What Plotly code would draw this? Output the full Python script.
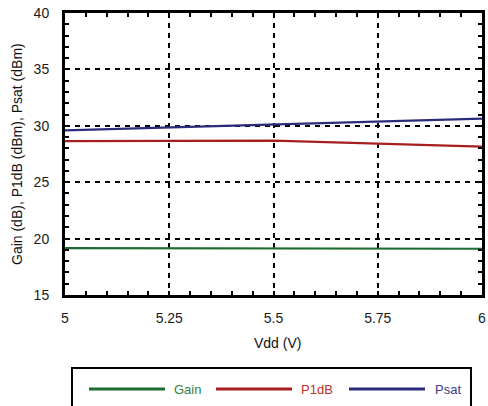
import plotly.graph_objects as go

vdd = [5.0, 5.25, 5.5, 5.75, 6.0]
gain = [19.15, 19.15, 19.15, 19.13, 19.1]
p1db = [28.65, 28.66, 28.68, 28.42, 28.15]
psat = [29.6, 29.85, 30.08, 30.36, 30.63]

series_names = ["Gain", "P1dB", "Psat"]
line_colors = ["#1e6b30", "#a81e1e", "#2b2b7c"]
text_colors = ["#2f8045", "#c0302a", "#3c3c8c"]
x_ticks = [5, 5.25, 5.5, 5.75, 6]
x_ticklabels = ["5", "5.25", "5.5", "5.75", "6"]
y_ticks = [15, 20, 25, 30, 35, 40]

W, H = 488, 406
L, R, T, B = 65, 482, 13, 295  # plot area in page pixels

def px(x):
    return (x - L) / (R - L)

def py(y):
    return (B - y) / (B - T)

fig = go.Figure()
for name, ys, c in zip(series_names, [gain, p1db, psat], line_colors):
    fig.add_trace(go.Scatter(x=vdd, y=ys, mode="lines", name=name,
                             line=dict(color=c, width=2.2), showlegend=False))

font = "Liberation Sans, Arial, Helvetica, sans-serif"
axis_common = dict(
    showline=True, linecolor="black", linewidth=3, mirror="allticks",
    ticks="inside", ticklen=4, tickwidth=2, tickcolor="black",
    showgrid=True, gridcolor="black", gridwidth=2, griddash="5px,5px",
    zeroline=False, tickfont=dict(family=font, size=14, color="#1a1a1a"),
    automargin=False, ticklabeloverflow="allow",
)
fig.update_xaxes(range=[5, 6], tickvals=x_ticks, ticktext=x_ticklabels,
                 minor=dict(dtick=0.05, tick0=5, ticks="inside", ticklen=4, tickwidth=2, tickcolor="black", showgrid=False),
                 ticklabelstandoff=8, **axis_common)
fig.update_yaxes(range=[15, 40], tickvals=y_ticks,
                 minor=dict(dtick=1, tick0=15, ticks="inside", ticklen=4, tickwidth=2, tickcolor="black", showgrid=False),
                 ticklabelstandoff=10, **axis_common)

shapes = [dict(type="rect", xref="paper", yref="paper",
               x0=px(72), x1=px(471), y0=py(368), y1=py(420),
               line=dict(color="black", width=2), fillcolor="rgba(0,0,0,0)")]
annotations = [
    dict(xref="paper", yref="paper", x=px(277), y=py(343), xanchor="center", yanchor="middle",
         showarrow=False, text="Vdd (V)", font=dict(family=font, size=14, color="#111")),
    dict(xref="paper", yref="paper", x=px(17), y=py(154), xanchor="center", yanchor="middle",
         showarrow=False, textangle=-90, text="Gain (dB), P1dB (dBm), Psat (dBm)",
         font=dict(family=font, size=14, color="#111")),
]
leg_lines = [(89, 165, 172), (216, 292, 299), (349, 425, 433)]
for (x0, x1, xt), name, lc, tc in zip(leg_lines, series_names, line_colors, text_colors):
    shapes.append(dict(type="line", xref="paper", yref="paper",
                       x0=px(x0), x1=px(x1), y0=py(389), y1=py(389),
                       line=dict(color=lc, width=3)))
    annotations.append(dict(xref="paper", yref="paper", x=px(xt), y=py(389),
                            xanchor="left", yanchor="middle", showarrow=False,
                            text=name, font=dict(family=font, size=13, color=tc)))

fig.update_layout(width=W, height=H,
                  margin=dict(l=L, r=W - R, t=T, b=H - B),
                  plot_bgcolor="white", paper_bgcolor="white",
                  shapes=shapes, annotations=annotations, showlegend=False)
fig.write_html("out.html", config={"displayModeBar": False},
               post_script="document.body.style.margin='0';document.body.style.overflow='hidden';")
